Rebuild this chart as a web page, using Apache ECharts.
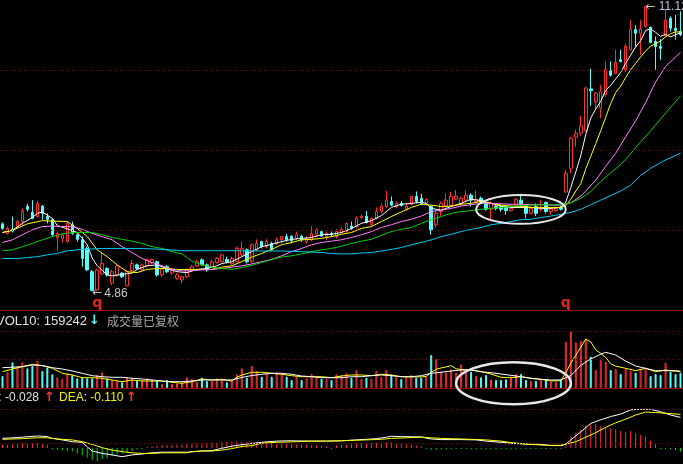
<!DOCTYPE html>
<html>
<head>
<meta charset="utf-8">
<title>K线 成交量 MACD</title>
<script src="https://cdn.jsdelivr.net/npm/echarts/dist/echarts.min.js"></script>
<style>
  html, body { margin: 0; padding: 0; background: #000; }
  #main { width: 683px; height: 464px; }
</style>
</head>
<body>
<div id="main"></div>
<script>
// ---- daily candles (price) ----
var opens = [
  6.34,6.13,6.22,6.28,6.39,6.72,6.59,6.50,6.73,6.50,
  6.43,6.04,6.02,5.95,6.32,6.10,5.99,5.80,5.29,4.89,
  5.24,5.36,5.04,5.22,5.26,4.98,5.31,5.44,5.34,5.42,
  5.49,5.51,5.22,5.40,5.26,5.15,5.11,5.18,5.33,5.42,
  5.55,5.44,5.40,5.49,5.51,5.56,5.47,5.51,5.66,5.77,
  5.51,5.77,5.95,5.84,5.91,5.91,5.99,6.06,6.07,6.02,
  6.07,5.95,5.99,6.11,6.17,6.06,6.13,6.06,6.15,6.17,
  6.29,6.28,6.48,6.50,6.32,6.46,6.61,6.72,6.83,6.72,
  6.79,6.66,6.77,6.94,6.90,6.79,6.72,6.32,6.61,6.73,
  6.75,6.88,6.79,6.86,6.97,6.83,6.90,6.79,6.66,6.73,
  6.72,6.70,6.63,6.73,6.86,6.73,6.57,6.72,6.66,6.81,
  6.61,6.63,6.70,7.04,7.56,8.24,8.33,8.39,9.30,9.02,
  8.88,9.17,9.70,9.64,9.94,9.72,10.16,10.60,10.52,10.67,
  10.65,10.34,10.23,10.46,10.85,10.63,10.56
];
var closes = [
  6.24,6.24,6.18,6.39,6.61,6.66,6.46,6.79,6.57,6.44,
  6.10,6.13,6.10,6.35,6.13,6.00,5.58,5.33,4.88,5.33,
  5.47,5.22,5.29,5.42,5.18,5.29,5.47,5.36,5.44,5.55,
  5.56,5.22,5.36,5.29,5.33,5.22,5.18,5.33,5.40,5.51,
  5.44,5.33,5.51,5.58,5.66,5.51,5.58,5.80,5.80,5.51,
  5.88,5.91,5.84,5.95,5.77,5.99,6.06,5.99,5.97,6.10,
  5.99,6.02,6.13,6.21,6.07,6.13,6.10,6.17,6.22,6.35,
  6.24,6.46,6.51,6.37,6.46,6.61,6.73,6.86,6.75,6.79,
  6.74,6.73,6.94,6.83,6.79,6.88,6.21,6.57,6.79,6.86,
  6.94,6.95,6.90,6.97,6.86,6.88,6.83,6.66,6.79,6.68,
  6.66,6.63,6.68,6.88,6.78,6.57,6.68,6.57,6.70,6.61,
  6.66,6.68,6.66,7.45,8.22,8.33,8.49,9.32,9.26,9.21,
  9.24,9.73,9.60,9.88,9.90,10.24,10.61,10.52,10.61,11.11,
  10.32,10.23,10.19,10.81,10.63,10.58,10.49
];
var lows = [
  6.21,6.10,6.15,6.24,6.32,6.61,6.44,6.48,6.43,6.35,
  6.07,5.75,5.93,5.93,6.10,5.95,5.40,5.31,4.86,4.87,
  5.22,5.18,5.00,5.18,5.15,4.96,5.29,5.33,5.31,5.39,
  5.46,5.18,5.18,5.26,5.22,5.11,5.04,5.15,5.29,5.39,
  5.42,5.29,5.39,5.47,5.49,5.47,5.44,5.49,5.64,5.47,
  5.49,5.73,5.80,5.80,5.75,5.88,5.90,5.95,5.91,5.99,
  5.95,5.90,5.95,6.06,6.06,5.99,6.06,6.02,6.13,6.15,
  6.21,6.24,6.44,6.35,6.29,6.44,6.57,6.68,6.73,6.68,
  6.72,6.63,6.75,6.79,6.75,6.77,6.10,6.26,6.51,6.70,
  6.72,6.86,6.73,6.83,6.72,6.79,6.79,6.63,6.44,6.64,
  6.61,6.54,6.61,6.70,6.72,6.46,6.54,6.51,6.61,6.57,
  6.54,6.61,6.63,7.02,7.45,8.03,8.27,8.36,8.93,8.84,
  8.66,9.13,9.57,9.62,9.88,9.66,10.14,10.23,10.05,10.65,
  10.30,9.72,9.94,10.45,10.56,10.38,10.46
];
var highs = [
  6.37,6.28,6.50,6.43,6.68,6.78,6.86,6.85,6.75,6.57,
  6.46,6.17,6.13,6.39,6.39,6.13,6.06,5.84,5.33,5.36,
  5.73,5.39,5.33,5.44,5.28,5.33,5.55,5.47,5.47,5.58,
  5.58,5.53,5.39,5.44,5.36,5.26,5.20,5.36,5.44,5.55,
  5.58,5.47,5.55,5.61,5.68,5.62,5.62,5.84,5.95,5.80,
  5.91,6.00,5.97,6.00,5.95,6.04,6.07,6.12,6.09,6.17,
  6.10,6.06,6.29,6.24,6.21,6.17,6.17,6.22,6.26,6.37,
  6.39,6.50,6.54,6.62,6.48,6.70,6.79,7.06,6.94,6.83,
  6.84,6.79,6.95,7.05,7.00,6.90,6.75,6.64,6.83,7.01,
  7.04,7.08,6.94,7.07,7.01,7.07,6.94,6.83,6.83,6.79,
  6.75,6.73,6.72,6.90,7.00,6.75,6.73,6.79,6.86,6.83,
  6.68,6.72,6.74,7.52,8.25,8.40,8.71,9.35,9.74,9.23,
  9.39,9.90,9.90,10.16,10.16,10.28,10.81,10.70,10.81,11.12,
  10.67,10.45,10.39,11.03,10.89,10.92,11.00
];

// ---- moving averages, [day index, value] read at turning points ----
var ma5 = [[0,6.15],[2,6.2],[4,6.35],[6,6.48],[7,6.57],[8,6.6],[10,6.46],[11,6.3],[13,6.23],[15,6.15],[16,6.02],[17,5.88],[18,5.59],[19,5.42],[20,5.32],[21,5.22],[22,5.2],[24,5.23],[26,5.26],[27,5.34],[29,5.42],[31,5.44],[33,5.36],[35,5.29],[37,5.27],[39,5.34],[41,5.36],[43,5.42],[44,5.47],[46,5.51],[48,5.62],[50,5.73],[52,5.84],[54,5.89],[56,5.95],[58,6.0],[60,6.02],[62,6.04],[64,6.1],[66,6.11],[68,6.15],[70,6.24],[72,6.35],[74,6.41],[76,6.52],[78,6.7],[80,6.77],[82,6.79],[84,6.81],[85,6.79],[86,6.68],[88,6.64],[90,6.72],[92,6.79],[94,6.88],[96,6.85],[98,6.79],[100,6.73],[102,6.7],[104,6.7],[106,6.7],[108,6.68],[110,6.68],[112,6.7],[113,6.82],[114,7.14],[115,7.48],[116,7.84],[117,8.3],[118,8.66],[119,8.86],[120,9.03],[121,9.27],[122,9.38],[123,9.52],[124,9.66],[125,9.86],[126,10.04],[127,10.22],[128,10.36],[129,10.58],[130,10.62],[131,10.54],[132,10.45],[133,10.5],[134,10.44],[135,10.49],[136,10.53]];
var ma10 = [[0,6.15],[2,6.2],[5,6.34],[8,6.41],[10,6.4],[13,6.39],[15,6.24],[17,6.06],[19,5.77],[21,5.62],[23,5.44],[25,5.29],[27,5.27],[29,5.34],[31,5.36],[33,5.36],[35,5.34],[37,5.34],[40,5.34],[42,5.34],[44,5.39],[46,5.42],[48,5.51],[50,5.61],[52,5.69],[54,5.78],[56,5.88],[58,5.93],[60,5.99],[62,6.0],[64,6.02],[66,6.06],[68,6.11],[70,6.15],[72,6.24],[74,6.28],[76,6.39],[78,6.5],[80,6.6],[82,6.7],[84,6.77],[86,6.75],[88,6.72],[90,6.73],[92,6.77],[94,6.79],[96,6.83],[98,6.79],[100,6.75],[102,6.73],[104,6.72],[106,6.7],[108,6.7],[110,6.7],[112,6.7],[113,6.74],[114,6.88],[115,7.06],[116,7.22],[117,7.55],[118,7.82],[119,8.1],[120,8.38],[121,8.68],[122,8.98],[123,9.22],[124,9.36],[125,9.55],[126,9.72],[127,9.86],[128,10.0],[129,10.13],[130,10.24],[131,10.29],[132,10.35],[133,10.44],[134,10.51],[135,10.55],[136,10.55]];
var ma20 = [[0,5.93],[2,5.99],[4,6.1],[6,6.21],[8,6.28],[10,6.29],[12,6.28],[14,6.28],[16,6.22],[18,6.13],[20,6.06],[22,5.99],[24,5.84],[26,5.71],[28,5.58],[30,5.49],[32,5.42],[34,5.34],[36,5.31],[38,5.31],[40,5.33],[42,5.34],[44,5.36],[46,5.39],[48,5.42],[50,5.46],[52,5.51],[54,5.56],[56,5.64],[58,5.73],[60,5.8],[62,5.88],[64,5.93],[66,5.96],[68,5.99],[70,6.04],[72,6.1],[74,6.17],[76,6.26],[78,6.32],[80,6.39],[82,6.44],[84,6.51],[86,6.61],[88,6.64],[90,6.68],[92,6.73],[94,6.76],[96,6.79],[98,6.79],[100,6.78],[102,6.77],[104,6.77],[106,6.76],[108,6.76],[110,6.75],[112,6.75],[114,6.8],[116,6.95],[117,7.06],[119,7.3],[121,7.6],[123,7.89],[125,8.25],[127,8.6],[129,9.0],[131,9.45],[133,9.79],[135,10.0],[136,10.1]];
var ma30 = [[0,5.75],[2,5.77],[4,5.84],[6,5.91],[8,5.99],[10,6.06],[12,6.12],[14,6.15],[16,6.15],[18,6.15],[20,6.1],[22,6.04],[24,6.0],[26,5.96],[28,5.91],[30,5.84],[32,5.8],[34,5.73],[36,5.68],[38,5.52],[40,5.44],[42,5.39],[44,5.36],[46,5.34],[48,5.38],[50,5.43],[52,5.49],[54,5.56],[56,5.61],[58,5.64],[60,5.68],[62,5.73],[64,5.77],[66,5.8],[68,5.85],[70,5.91],[72,5.96],[74,6.0],[76,6.09],[78,6.17],[80,6.22],[82,6.26],[84,6.35],[86,6.43],[88,6.5],[90,6.57],[92,6.61],[94,6.63],[96,6.66],[98,6.68],[100,6.7],[102,6.72],[104,6.74],[106,6.75],[108,6.76],[110,6.76],[112,6.76],[114,6.8],[116,6.9],[118,7.05],[120,7.27],[122,7.46],[124,7.64],[126,7.88],[128,8.14],[130,8.38],[133,8.77],[135,9.02],[136,9.15]];
var ma60 = [[0,5.58],[3,5.58],[5,5.6],[7,5.62],[9,5.66],[11,5.69],[13,5.75],[16,5.78],[20,5.8],[24,5.8],[28,5.8],[32,5.78],[36,5.75],[40,5.75],[44,5.75],[48,5.75],[52,5.745],[56,5.745],[60,5.73],[64,5.71],[66,5.69],[68,5.68],[70,5.68],[72,5.7],[74,5.71],[76,5.745],[78,5.78],[80,5.82],[82,5.88],[84,5.93],[86,5.99],[88,6.06],[90,6.11],[92,6.17],[94,6.22],[96,6.26],[98,6.32],[100,6.35],[102,6.39],[104,6.43],[106,6.44],[108,6.48],[110,6.51],[112,6.55],[114,6.59],[116,6.66],[118,6.76],[120,6.86],[122,6.96],[124,7.06],[126,7.19],[128,7.4],[130,7.56],[133,7.74],[136,7.89]];

// ---- volume ----
var volumes = [
  113700,148700,243500,208400,243500,186600,211300,255800,161100,192300,
  129800,101400,85300,139300,123200,91900,97600,91900,91900,123200,
  148700,91900,75800,69200,54000,101400,91900,75800,75800,91900,
  75800,75800,37900,75800,37900,44500,54000,101400,85300,59700,
  97600,66300,66300,91900,75800,54000,75800,129800,186600,97600,
  208400,161100,107100,139300,107100,148700,132600,107100,75800,107100,
  75800,94700,132600,101400,88100,85300,75800,129800,123200,139300,
  97600,170500,85300,97600,85300,161100,104200,170500,127900,104200,
  85300,107100,123200,97600,97600,107100,312600,274700,156300,146800,
  178100,145000,224500,154400,154400,113700,101400,123200,82400,75800,
  75800,82400,97600,132600,132600,75800,66300,66300,82400,82400,
  59700,59700,82400,438600,540000,433000,448100,461400,296500,170500,
  265300,249200,170500,180000,132600,186600,163900,145000,170500,192300,
  113700,132600,123200,239700,154400,132600,145000
];
var vol5 = [[0,154400],[2,180000],[4,201800],[6,224500],[8,211300],[10,186600],[12,139300],[14,123200],[16,97600],[18,97600],[20,91900],[22,75800],[24,59700],[26,75800],[28,66300],[30,66300],[32,66300],[34,54000],[36,44500],[38,59700],[40,85300],[42,75800],[44,82400],[46,66300],[47,101400],[48,123200],[50,148700],[52,148700],[54,139300],[56,129800],[58,116500],[60,107100],[62,107100],[64,107100],[66,97600],[68,113700],[70,123200],[72,123200],[74,116500],[76,129800],[78,123200],[80,107100],[82,105000],[84,105000],[85,110000],[86,148000],[87,178000],[88,190000],[89,200000],[90,212000],[91,182000],[92,175000],[94,170500],[96,154400],[98,132600],[100,101400],[102,97600],[104,107100],[106,91900],[108,82400],[110,66300],[112,70000],[113,145000],[114,236000],[115,311000],[116,388000],[117,464000],[118,436000],[119,362000],[120,328000],[121,289000],[122,230000],[123,207000],[125,186600],[127,163900],[129,186600],[131,154400],[133,170500],[135,158000],[136,154400]];
var vol10 = [[0,192300],[2,197000],[4,201800],[6,217900],[8,213000],[10,192300],[12,180000],[14,161100],[16,139300],[18,116500],[20,107100],[22,101400],[24,101400],[26,91900],[28,85300],[30,75800],[32,66300],[34,59700],[36,59700],[38,66300],[40,75800],[42,75800],[44,75800],[46,75800],[48,100000],[50,118000],[52,129800],[54,139300],[56,139300],[58,129800],[60,113700],[62,107100],[64,97600],[66,97600],[68,97600],[70,107100],[72,107100],[74,116500],[76,123200],[78,116500],[80,107100],[82,107100],[84,116500],[86,139300],[88,148700],[90,161100],[92,170500],[94,170500],[96,154400],[98,145000],[100,132600],[102,120300],[104,107100],[106,91900],[108,82400],[110,75800],[112,75800],[114,117500],[116,215000],[118,275000],[120,320000],[121,338200],[123,312600],[125,255000],[127,208400],[129,186600],[131,163900],[133,163900],[135,163900],[136,159242]];

// ---- MACD ----
var dif = [[0,0.32],[3,0.35],[7,0.40],[9,0.38],[10,0.32],[12,0.27],[14,0.21],[16,0.19],[17,0.04],[18,-0.10],[20,-0.18],[22,-0.23],[24,-0.29],[26,-0.23],[28,-0.20],[30,-0.16],[32,-0.14],[37,-0.14],[40,-0.10],[42,-0.09],[44,-0.01],[46,0.06],[48,0.11],[50,0.15],[52,0.19],[55,0.23],[57,0.24],[62,0.23],[65,0.23],[68,0.24],[71,0.27],[73,0.29],[75,0.31],[77,0.36],[78,0.39],[80,0.38],[84,0.37],[85,0.33],[86,0.30],[88,0.28],[92,0.28],[95,0.27],[97,0.23],[100,0.19],[102,0.16],[105,0.13],[108,0.12],[110,0.08],[112,0.08],[113,0.13],[114,0.27],[116,0.54],[118,0.82],[120,0.94],[122,1.05],[124,1.13],[126,1.27],[128,1.29],[130,1.29],[132,1.21],[134,1.10],[136,1.02]];
var dea = [[0,0.29],[4,0.31],[7,0.34],[9,0.34],[10,0.32],[12,0.29],[14,0.27],[16,0.21],[18,0.12],[20,0.01],[22,-0.07],[24,-0.12],[26,-0.16],[28,-0.18],[30,-0.18],[32,-0.16],[37,-0.16],[38,-0.12],[40,-0.10],[42,-0.10],[44,-0.07],[46,-0.02],[48,0.05],[50,0.08],[52,0.16],[55,0.19],[59,0.21],[62,0.23],[65,0.23],[68,0.24],[71,0.26],[73,0.27],[76,0.29],[78,0.32],[81,0.34],[84,0.36],[86,0.34],[88,0.32],[94,0.29],[97,0.27],[100,0.23],[102,0.18],[105,0.13],[108,0.10],[110,0.09],[112,0.09],[113,0.13],[115,0.21],[117,0.36],[119,0.51],[121,0.69],[123,0.84],[125,0.96],[127,1.10],[129,1.20],[131,1.18],[133,1.16],[136,1.12]];
var macdBars = [
  0.12,0.10,0.12,0.14,0.16,0.17,0.16,0.17,0.14,0.12,
  -0.03,-0.06,-0.08,-0.10,-0.12,-0.18,-0.23,-0.32,-0.40,-0.43,
  -0.37,-0.34,-0.27,-0.21,-0.18,-0.16,-0.10,-0.06,-0.03,0.03,
  0.06,0.08,0.10,0.10,0.11,0.12,0.12,0.13,0.14,0.15,
  0.16,0.17,0.17,0.18,0.20,0.21,0.21,0.21,0.21,0.20,
  0.20,0.20,0.19,0.18,0.17,0.16,0.15,0.14,0.13,0.12,
  0.12,0.11,0.10,0.09,0.07,0.05,-0.02,0.08,0.10,0.12,
  0.14,0.15,0.16,0.17,0.17,0.17,0.18,0.18,0.18,0.17,
  0.15,0.13,0.11,0.09,0.06,-0.03,-0.06,-0.06,-0.05,-0.04,
  -0.04,-0.03,-0.03,-0.03,-0.04,-0.04,-0.04,-0.04,-0.04,-0.04,
  -0.04,-0.04,-0.04,-0.03,-0.03,-0.03,-0.03,-0.03,-0.03,-0.02,
  -0.02,-0.02,-0.02,0.10,0.38,0.51,0.60,0.77,0.79,0.80,
  0.73,0.68,0.66,0.62,0.57,0.54,0.57,0.49,0.43,0.38,
  0.24,0.13,-0.02,-0.03,-0.04,-0.07,-0.12
];
// cursor read-out shown in the MACD title
var difReadout = -0.028;
var deaReadout = -0.110;

// dotted level lines of each panel
var priceGridLevels = [6.2, 7.95, 9.7];
var volGridLevels = [270000, 540000];
var macdGridLevels = [0.15, 1.3];

// red "q" marks under these days, and the two hand-drawn rings
var qDays = [18, 112];
var qLevel = 4.60;
var rings = [
  { grid: 0, from: 95, to: 113, low: 6.34, high: 6.97, width: 2 },
  { grid: 1, from: 91, to: 114, low: -154000, high: 243500, width: 2.5 }
];

var RED = '#ff3232';
var CYAN = '#54fcfc';
var GREEN_BAR = '#00dc00';
var DOT_RED = '#7a0000';
var LINE_RED = '#a00000';

var days = [];
for (var i = 0; i < opens.length; i++) {
    days.push(String(i + 1));
}
function isUp(i) { return closes[i] >= opens[i]; }
function pairs(list) {
    return list.map(function (p) { return [days[p[0]], p[1]]; });
}
function levels(list) {
    return {
        silent: true, symbol: 'none', animation: false,
        label: { show: false },
        lineStyle: { color: DOT_RED, type: [1, 2], width: 1 },
        data: list.map(function (v) { return { yAxis: v }; })
    };
}
function dayAxis(gridIndex, showLine) {
    return {
        type: 'category', gridIndex: gridIndex, data: days, boundaryGap: true,
        axisLine: { show: showLine, onZero: false, lineStyle: { color: LINE_RED, width: 1 } },
        axisTick: { show: false }, axisLabel: { show: false }, splitLine: { show: false }
    };
}
function line(data, color, axis) {
    return {
        type: 'line', xAxisIndex: axis, yAxisIndex: axis, data: pairs(data),
        symbol: 'none', showSymbol: false, silent: true, z: 4,
        lineStyle: { color: color, width: 1 }
    };
}

var candles = opens.map(function (o, i) { return [o, closes[i], lows[i], highs[i]]; });
var lowIdx = lows.indexOf(Math.min.apply(null, lows));
var highIdx = highs.indexOf(Math.max.apply(null, highs));

var pointMarks = [
    { coord: [days[lowIdx], lows[lowIdx]],
      label: { show: true, position: 'right', distance: 0, offset: [0, 2],
               formatter: '{a|←}{b|' + lows[lowIdx].toFixed(2) + '}',
               rich: { a: { color: '#c0c0c0', fontSize: 12, fontFamily: 'DejaVu Sans' },
                       b: { color: '#c8c8c8', fontSize: 12, fontFamily: 'Liberation Sans', padding: [0, 0, 0, 2] } } } },
    { coord: [days[highIdx], highs[highIdx]],
      label: { show: true, position: 'right', distance: 0, offset: [0, 1],
               formatter: '{a|←}{b|' + highs[highIdx].toFixed(2) + '}',
               rich: { a: { color: '#c0c0c0', fontSize: 12, fontFamily: 'DejaVu Sans' },
                       b: { color: '#b8c4d8', fontSize: 12, fontFamily: 'Liberation Sans', padding: [0, 0, 0, 3] } } } }
];
qDays.forEach(function (d) {
    pointMarks.push({ coord: [days[d], qLevel],
        label: { show: true, position: 'right', distance: 0, formatter: 'q',
                 color: '#e82020', fontSize: 14, fontWeight: 'bold', fontFamily: 'DejaVu Sans' } });
});

var option = {
    backgroundColor: '#000',
    animation: false,
    grid: [
        { left: -1, width: 685, top: 0, height: 310 },
        { left: -1, width: 685, top: 331, height: 57 },
        { left: -1, width: 685, top: 409, height: 55 }
    ],
    xAxis: [dayAxis(0, true), dayAxis(1, true), dayAxis(2, false)],
    yAxis: [
        { type: 'value', gridIndex: 0, min: 4.45, max: 11.25, show: false, splitLine: { show: false } },
        { type: 'value', gridIndex: 1, min: 0, max: 540000, show: false, splitLine: { show: false } },
        { type: 'value', gridIndex: 2, min: -0.5333, max: 1.3, show: false, splitLine: { show: false } }
    ],
    series: [
        {
            type: 'candlestick', xAxisIndex: 0, yAxisIndex: 0, data: candles,
            barWidth: 3, silent: true, z: 2,
            itemStyle: { color: '#000', color0: CYAN, borderColor: RED, borderColor0: CYAN, borderWidth: 1 },
            markLine: levels(priceGridLevels),
            markPoint: { symbol: 'circle', symbolSize: 0, silent: true, animation: false, data: pointMarks }
        },
        line(ma5, '#ffffff', 0),
        line(ma10, '#ffff00', 0),
        line(ma20, '#ff80ff', 0),
        line(ma30, '#00d200', 0),
        line(ma60, '#00c8f0', 0),
        {
            type: 'bar', xAxisIndex: 1, yAxisIndex: 1, barWidth: 2, silent: true, z: 2,
            data: volumes.map(function (v, i) {
                return { value: v, itemStyle: isUp(i)
                    ? { color: '#000', borderColor: RED, borderWidth: 1 }
                    : { color: CYAN, borderColor: CYAN, borderWidth: 1 } };
            }),
            markLine: levels(volGridLevels)
        },
        line(vol5, '#ffff00', 1),
        line(vol10, '#ffffff', 1),
        {
            type: 'bar', xAxisIndex: 2, yAxisIndex: 2, barWidth: 1, barMinHeight: 1, silent: true, z: 2,
            data: macdBars.map(function (v) {
                return { value: v, itemStyle: { color: v >= 0 ? RED : GREEN_BAR } };
            }),
            markLine: levels(macdGridLevels)
        },
        line(dif, '#ffffff', 2),
        line(dea, '#ffff00', 2)
    ]
};

var chart = echarts.init(document.getElementById('main'));
chart.setOption(option);

// panel titles
var font = '12px "Liberation Sans", Arial, sans-serif';
var arrowFont = 'bold 13px "DejaVu Sans"';
var titles = [
    { type: 'text', x: -4, y: 321, style: { text: 'VOL10: ' + vol10[vol10.length - 1][1], fill: '#e0e0e0', font: '13px "Liberation Sans", Arial, sans-serif', verticalAlign: 'middle' } },
    { type: 'text', x: 89, y: 321, style: { text: '↓', fill: CYAN, font: arrowFont, verticalAlign: 'middle' } },
    { type: 'text', x: 107, y: 321, style: { text: '成交量已复权', fill: '#a8a8a8', font: '12px "Noto Sans CJK SC"', verticalAlign: 'middle' } },
    { type: 'text', x: -21, y: 398, style: { text: 'DIF: ' + difReadout.toFixed(3), fill: '#e0e0e0', font: font, verticalAlign: 'middle' } },
    { type: 'text', x: 44, y: 398, style: { text: '↑', fill: RED, font: arrowFont, verticalAlign: 'middle' } },
    { type: 'text', x: 59, y: 398, style: { text: 'DEA: ' + deaReadout.toFixed(3), fill: '#f0f000', font: font, verticalAlign: 'middle' } },
    { type: 'text', x: 126, y: 398, style: { text: '↑', fill: RED, font: arrowFont, verticalAlign: 'middle' } }
];

// hand-drawn rings, placed from their day / value span
var ringShapes = rings.map(function (r) {
    var a = chart.convertToPixel({ gridIndex: r.grid }, [days[r.from], r.high]);
    var b = chart.convertToPixel({ gridIndex: r.grid }, [days[r.to], r.low]);
    return {
        type: 'ellipse', silent: true, z: 50,
        shape: { cx: (a[0] + b[0]) / 2, cy: (a[1] + b[1]) / 2, rx: (b[0] - a[0]) / 2, ry: (b[1] - a[1]) / 2 },
        style: { fill: 'none', stroke: '#e8e8e8', lineWidth: r.width }
    };
});

chart.setOption({ graphic: titles.concat(ringShapes) });
</script>
</body>
</html>
